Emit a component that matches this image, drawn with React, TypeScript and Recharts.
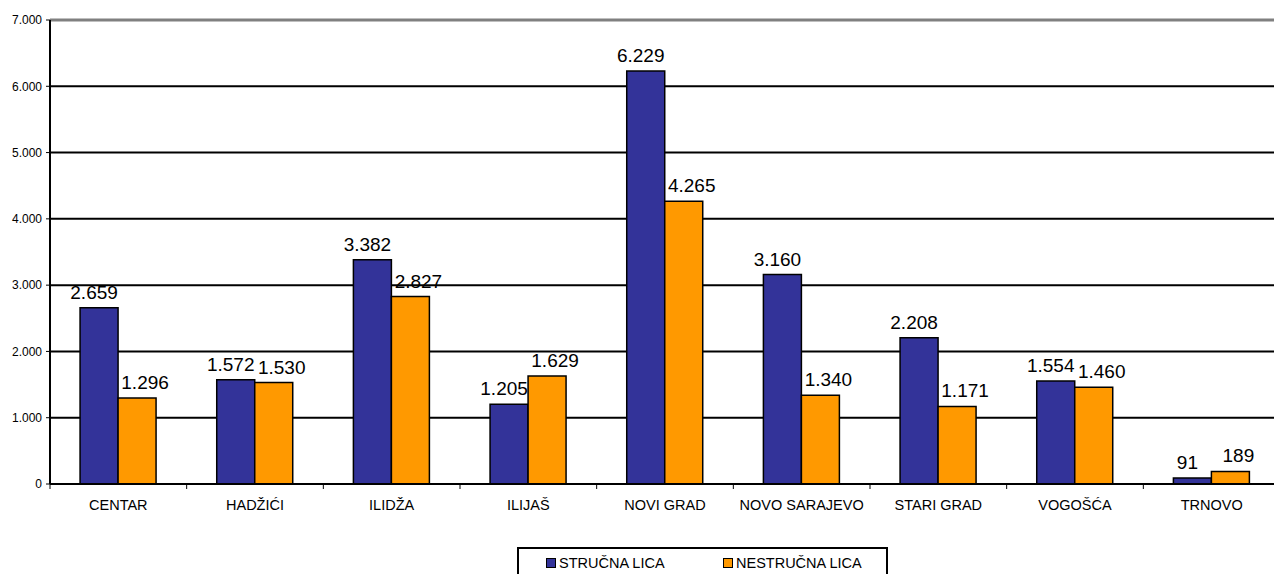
import { Bar, BarChart, CartesianGrid, LabelList, ReferenceLine, XAxis, YAxis } from "recharts";

const MUNICIPALITIES = [
  "CENTAR",
  "HADŽIĆI",
  "ILIDŽA",
  "ILIJAŠ",
  "NOVI GRAD",
  "NOVO SARAJEVO",
  "STARI GRAD",
  "VOGOŠĆA",
  "TRNOVO",
];
const STRUCNA = [2659, 1572, 3382, 1205, 6229, 3160, 2208, 1554, 91];
const NESTRUCNA = [1296, 1530, 2827, 1629, 4265, 1340, 1171, 1460, 189];
const Y_TICKS = [0, 1000, 2000, 3000, 4000, 5000, 6000, 7000];

const BLUE = "#333399";
const ORANGE = "#FF9900";
const FONT = "'Liberation Sans', Arial, sans-serif";

const CHART_W = 1282;
const MARGIN = { top: 20, right: 2, bottom: 60, left: 0 };
const Y_AXIS_W = 50;
const HALF_BAND = (CHART_W - MARGIN.left - MARGIN.right - Y_AXIS_W) / MUNICIPALITIES.length / 2;

const data = MUNICIPALITIES.map((name, i) => ({
  name,
  strucna: STRUCNA[i],
  nestrucna: NESTRUCNA[i],
}));

const fmt = (v: number) => v.toLocaleString("de-DE");

function CategoryTick(props: any) {
  const { x, y, payload } = props;
  return (
    <g>
      <line x1={x - HALF_BAND} x2={x - HALF_BAND} y1={y} y2={y + 5} stroke="#000" strokeWidth={1} />
      <text x={x} y={y + 26} textAnchor="middle" fontSize={14.5} fontFamily={FONT} fill="#000">
        {payload.value}
      </text>
    </g>
  );
}

// Excel-style labels: the first series sits a bit left, the second a bit right
function makeLabel(dx: number) {
  return function ValueLabel(props: any) {
    const { x, y, width, value } = props;
    return (
      <text
        x={x + width / 2 + dx}
        y={y - 9}
        textAnchor="middle"
        fontSize={19}
        fontFamily={FONT}
        fill="#000"
      >
        {fmt(value)}
      </text>
    );
  };
}
const BlueLabel = makeLabel(-5);
const OrangeLabel = makeLabel(8);

function LegendBox() {
  const item = (color: string, label: string, left: number) => (
    <div style={{ position: "absolute", left, top: 7, display: "flex", alignItems: "center" }}>
      <span
        style={{
          width: 8,
          height: 8,
          background: color,
          border: "1px solid #000",
          display: "inline-block",
          marginRight: 3,
        }}
      />
      <span style={{ fontSize: 14.5, fontFamily: FONT, color: "#000", lineHeight: "14px" }}>{label}</span>
    </div>
  );
  return (
    <div
      style={{
        position: "absolute",
        left: 517,
        top: 547,
        width: 367,
        height: 40,
        border: "2px solid #000",
        background: "#fff",
      }}
    >
      {item(BLUE, "STRUČNA LICA", 27)}
      {item(ORANGE, "NESTRUČNA LICA", 204)}
    </div>
  );
}

export default function App() {
  return (
    <div
      style={{
        position: "absolute",
        left: 0,
        top: 0,
        width: 1274,
        height: 574,
        overflow: "hidden",
        background: "#fff",
      }}
    >
      <BarChart
        width={CHART_W}
        height={574}
        data={data}
        margin={MARGIN}
        barCategoryGap="22%"
        barGap={0}
      >
        <CartesianGrid vertical={false} stroke="#000" strokeWidth={2} />
        <XAxis
          dataKey="name"
          interval={0}
          tickSize={0}
          tickMargin={0}
          tickLine={false}
          axisLine={{ stroke: "#000", strokeWidth: 2 }}
          tick={<CategoryTick />}
          height={30}
        />
        <YAxis
          width={Y_AXIS_W}
          domain={[0, 7000]}
          ticks={Y_TICKS}
          interval={0}
          tickFormatter={fmt}
          tickSize={4}
          tickMargin={4}
          axisLine={{ stroke: "#000", strokeWidth: 2 }}
          tickLine={{ stroke: "#000", strokeWidth: 1 }}
          tick={{ fontSize: 12, fontFamily: FONT, fill: "#000" }}
        />
        <ReferenceLine y={7000} stroke="#808080" strokeWidth={3} />
        <Bar dataKey="strucna" fill={BLUE} stroke="#000" strokeWidth={1.5} isAnimationActive={false}>
          <LabelList dataKey="strucna" content={<BlueLabel />} />
        </Bar>
        <Bar dataKey="nestrucna" fill={ORANGE} stroke="#000" strokeWidth={1.5} isAnimationActive={false}>
          <LabelList dataKey="nestrucna" content={<OrangeLabel />} />
        </Bar>
      </BarChart>
      <LegendBox />
    </div>
  );
}
